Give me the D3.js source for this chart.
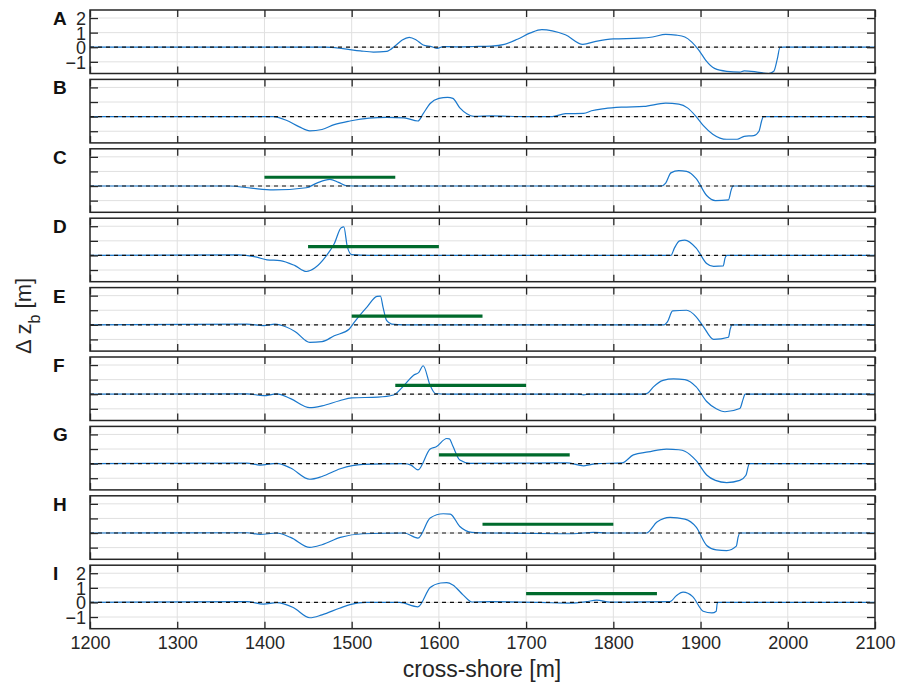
<!DOCTYPE html>
<html>
<head>
<meta charset="utf-8">
<script src="https://cdn.jsdelivr.net/npm/d3@7"></script>
<style>
  body { margin: 0; background: #fff; }
  svg { display: block; font-family: "Liberation Sans", Arial, Helvetica, sans-serif; }
</style>
</head>
<body>
<svg id="chart" width="898" height="682"></svg>
<script>
// panneaux et graduations
const panelLabels = ["A", "B", "C", "D", "E", "F", "G", "H", "I"];
const xTicks = [1200, 1300, 1400, 1500, 1600, 1700, 1800, 1900, 2000, 2100];
const yTicks = [-1, 0, 1, 2];

// profils de variation du fond [cross-shore m, dz m]
const profileA = [[1200,0],[1470,0],[1490,-0.1],[1510,-0.25],[1525,-0.33],[1540,-0.28],[1550,0.1],[1558,0.5],[1566,0.68],[1574,0.5],[1582,0.15],[1592,0.03],[1598,-0.08],[1605,0.04],[1620,0.03],[1640,0.05],[1660,0.08],[1675,0.2],[1690,0.55],[1705,0.98],[1718,1.2],[1730,1.12],[1745,0.85],[1765,0.2],[1780,0.4],[1800,0.57],[1830,0.62],[1845,0.7],[1860,0.88],[1872,0.83],[1882,0.7],[1890,0.35],[1898,-0.2],[1906,-0.9],[1916,-1.45],[1930,-1.65],[1945,-1.7],[1950,-1.62],[1965,-1.7],[1978,-1.8],[1984,-1.65],[1988,-0.8],[1991,-0.02],[1995,0],[2100,0]];
const profileB = [[1200,0],[1410,0],[1425,-0.25],[1440,-0.7],[1452,-0.97],[1466,-0.88],[1480,-0.55],[1498,-0.3],[1520,-0.1],[1540,-0.05],[1560,-0.08],[1576,-0.3],[1582,0.2],[1590,0.9],[1600,1.25],[1610,1.32],[1616,1.25],[1624,0.6],[1632,0.2],[1640,0.02],[1660,0.05],[1700,0],[1730,0],[1745,0.2],[1766,0.22],[1775,0.4],[1790,0.55],[1810,0.65],[1835,0.7],[1860,0.92],[1875,0.85],[1885,0.6],[1895,0],[1903,-0.6],[1914,-1.2],[1930,-1.55],[1942,-1.55],[1950,-1.35],[1961,-1.3],[1967,-1.0],[1970,-0.3],[1972,0],[2100,0]];
const profileC = [[1200,0],[1360,0],[1385,-0.15],[1410,-0.27],[1448,-0.12],[1460,0.2],[1475,0.46],[1485,0.25],[1494,0.02],[1510,0],[1855,0],[1860,0.2],[1866,0.9],[1875,1.05],[1884,1.0],[1895,0.5],[1907,-0.65],[1917,-1.0],[1932,-0.95],[1935,-0.3],[1937,0],[2100,0]];
const profileD = [[1200,0],[1370,0.04],[1390,-0.1],[1403,-0.3],[1418,-0.35],[1435,-0.7],[1448,-1.1],[1458,-0.85],[1470,-0.1],[1480,0.8],[1488,1.9],[1491,1.95],[1495,0.6],[1500,0.05],[1520,0],[1866,0],[1870,0.5],[1876,1.0],[1882,1.05],[1895,0.5],[1907,-0.55],[1915,-0.75],[1926,-0.72],[1928,-0.2],[1930,0],[2100,0]];
const profileE = [[1200,0],[1380,0.05],[1399,-0.05],[1412,0.05],[1425,-0.15],[1435,-0.45],[1452,-1.2],[1466,-1.15],[1480,-0.75],[1497,-0.3],[1502,0.1],[1510,0.7],[1518,1.25],[1529,1.95],[1533,1.97],[1536,1.2],[1540,0.3],[1546,0.05],[1560,0],[1858,0],[1862,0.2],[1868,0.95],[1884,1.0],[1895,0.55],[1903,-0.1],[1915,-1.0],[1932,-0.85],[1934,-0.3],[1936,0],[2100,0]];
const profileF = [[1200,0],[1380,0.03],[1399,-0.1],[1414,0.02],[1430,-0.3],[1452,-0.92],[1466,-0.8],[1486,-0.45],[1500,-0.25],[1530,-0.2],[1548,-0.05],[1560,0.6],[1571,1.3],[1577,1.5],[1582,1.95],[1590,0.6],[1596,0.05],[1610,0],[1760,0],[1766,-0.04],[1772,0],[1835,0],[1840,0.1],[1846,0.5],[1857,0.95],[1869,1.05],[1882,1.0],[1895,0.5],[1907,-0.5],[1918,-1.0],[1928,-1.2],[1945,-0.98],[1949,-0.3],[1951,0],[2100,0]];
const profileG = [[1200,0],[1380,0.03],[1395,-0.1],[1414,0.02],[1430,-0.3],[1452,-1.07],[1466,-0.88],[1487,-0.35],[1513,-0.05],[1560,0],[1568,-0.1],[1576,-0.43],[1590,1.0],[1597,1.15],[1609,1.72],[1612,1.7],[1616,1.2],[1624,0.25],[1636,0.02],[1747,0.05],[1766,-0.15],[1781,0],[1810,0.05],[1823,0.6],[1840,0.8],[1861,1.0],[1875,0.95],[1882,0.85],[1895,0.2],[1907,-0.78],[1917,-1.15],[1930,-1.3],[1945,-1.15],[1952,-0.8],[1956,0],[2100,0]];
const profileH = [[1200,0],[1380,0.02],[1395,-0.1],[1414,0],[1430,-0.3],[1452,-0.98],[1466,-0.8],[1487,-0.3],[1513,-0.05],[1560,0],[1576,-0.35],[1590,1.03],[1605,1.32],[1613,1.3],[1624,0.45],[1638,0.05],[1660,0],[1754,-0.05],[1777,0.05],[1792,0],[1838,0],[1850,0.75],[1865,1.07],[1882,0.95],[1895,0.4],[1907,-0.85],[1918,-1.15],[1930,-1.2],[1941,-0.9],[1943,-0.3],[1945,0],[2100,0]];
const profileI = [[1200,0],[1380,0.05],[1399,-0.12],[1414,-0.02],[1433,-0.35],[1452,-1.05],[1466,-0.85],[1486,-0.4],[1498,-0.15],[1517,0],[1555,0],[1576,-0.3],[1590,1.02],[1602,1.33],[1609,1.36],[1616,1.2],[1628,0.5],[1638,0.03],[1659,0.05],[1716,0],[1750,-0.05],[1769,0.05],[1781,0.16],[1796,0.02],[1865,0.05],[1872,0.45],[1880,0.7],[1891,0.4],[1903,-0.6],[1913,-0.72],[1918,-0.6],[1919,-0.1],[1920,0],[2100,0]];
const profiles = [profileA, profileB, profileC, profileD, profileE, profileF, profileG, profileH, profileI];

// barres vertes (début en m, longueur, niveau)
const barStarts = [null, null, 1400, 1450, 1500, 1550, 1600, 1650, 1700];
const barLength = 150;
const barLevel = 0.6;

// géométrie
const left = 90, right = 875;
const firstTop = 10, pitch = 69.4, panelH = 63.5;

const svg = d3.select('#chart');

const x = d3.scaleLinear().domain([1200, 2100]).range([left, right]);
const y = d3.scaleLinear().domain([-1.8, 2.55]).range([panelH, 0]);

const line = d3.line()
    .x(d => x(d[0]))
    .y(d => y(d[1]))
    .curve(d3.curveMonotoneX);

panelLabels.forEach((lab, i) => {
    const top = firstTop + i * pitch;
    const g = svg.append('g').attr('transform', `translate(0,${top})`);

    // zone de découpe
    svg.append('clipPath').attr('id', 'clip' + i)
        .append('rect').attr('x', left).attr('y', 0)
        .attr('width', right - left).attr('height', panelH);

    // grille
    g.append('g').selectAll('line').data(xTicks).join('line')
        .attr('x1', d => x(d)).attr('x2', d => x(d))
        .attr('y1', 0).attr('y2', panelH)
        .attr('stroke', '#e0e0e0').attr('stroke-width', 1);
    g.append('g').selectAll('line').data(yTicks).join('line')
        .attr('x1', left).attr('x2', right)
        .attr('y1', d => y(d)).attr('y2', d => y(d))
        .attr('stroke', '#e0e0e0').attr('stroke-width', 1);

    const plot = g.append('g').attr('clip-path', `url(#clip${i})`);

    // profil
    plot.append('path')
        .datum(profiles[i])
        .attr('d', line)
        .attr('fill', 'none')
        .attr('stroke', '#1a78cc')
        .attr('stroke-width', 1.2);

    // ligne zéro
    plot.append('line')
        .attr('x1', left).attr('x2', right)
        .attr('y1', y(0)).attr('y2', y(0))
        .attr('stroke', '#111').attr('stroke-width', 1.2)
        .attr('stroke-dasharray', '4,4');

    // barre verte
    if (barStarts[i] !== null) {
        plot.append('line')
            .attr('x1', x(barStarts[i])).attr('x2', x(barStarts[i] + barLength))
            .attr('y1', y(barLevel)).attr('y2', y(barLevel))
            .attr('stroke', '#006a2c').attr('stroke-width', 3.2);
    }

    // axes
    const showY = (i === 0 || i === panelLabels.length - 1);
    const showX = (i === panelLabels.length - 1);

    const axB = g.append('g').attr('transform', `translate(0,${panelH})`)
        .call(d3.axisBottom(x).tickValues(xTicks).tickSize(-7).tickPadding(8)
            .tickFormat(showX ? d3.format('d') : ''));
    const axT = g.append('g')
        .call(d3.axisTop(x).tickValues(xTicks).tickSize(-7).tickFormat(''));
    const axL = g.append('g').attr('transform', `translate(${left},0)`)
        .call(d3.axisLeft(y).tickValues(yTicks).tickSize(-8).tickPadding(4)
            .tickFormat(showY ? d3.format('d') : ''));
    const axR = g.append('g').attr('transform', `translate(${right},0)`)
        .call(d3.axisRight(y).tickValues(yTicks).tickSize(-8).tickFormat(''));

    [axB, axT, axL, axR].forEach(a => {
        a.select('.domain').remove();
        a.selectAll('.tick line').attr('stroke', '#262626').attr('stroke-width', 1.3);
        a.selectAll('.tick text').attr('fill', '#262626')
            .style('font-size', '18px')
            .style('font-family', '"Liberation Sans", Arial, sans-serif');
    });
    axL.selectAll('.tick text').attr('dy', '0.36em');

    // cadre
    g.append('rect')
        .attr('x', left).attr('y', 0)
        .attr('width', right - left).attr('height', panelH)
        .attr('fill', 'none').attr('stroke', '#262626').attr('stroke-width', 1.5);

    // lettre du panneau
    g.append('text')
        .attr('x', 53).attr('y', 15)
        .attr('font-weight', 'bold')
        .attr('font-size', '19px')
        .attr('fill', '#111')
        .text(lab);
});

// titres des axes
svg.append('text')
    .attr('x', 482).attr('y', 677)
    .attr('text-anchor', 'middle')
    .attr('font-size', '23px')
    .attr('fill', '#262626')
    .text('cross-shore [m]');

const yl = svg.append('text')
    .attr('transform', 'translate(31,316) rotate(-90)')
    .attr('text-anchor', 'middle')
    .attr('font-size', '22px')
    .attr('fill', '#262626');
yl.append('tspan').text('Δ z');
yl.append('tspan').attr('baseline-shift', 'sub').attr('font-size', '16px').text('b');
yl.append('tspan').text(' [m]');
</script>
</body>
</html>
